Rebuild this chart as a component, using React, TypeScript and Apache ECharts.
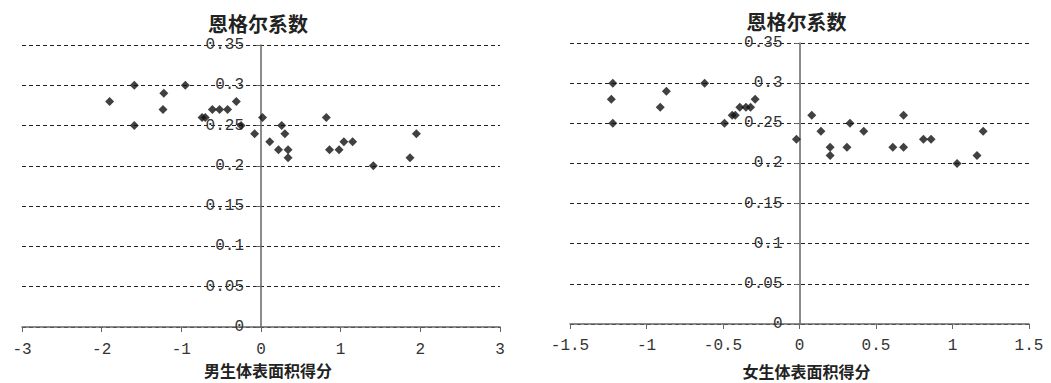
import React, { useEffect, useRef } from "react";
import * as echarts from "echarts";

const yTitle = "恩格尔系数";
const maleXName = "男生体表面积得分";
const femaleXName = "女生体表面积得分";

const maleX = [-1.9, -1.59, -1.59, -1.22, -1.23, -0.95, -0.74, -0.7, -0.61, -0.52, -0.42, -0.31, -0.25, -0.08, 0.02, 0.11, 0.26, 0.3, 0.22, 0.34, 0.34, 0.82, 0.86, 0.98, 1.04, 1.15, 1.41, 1.87, 1.95];
const maleY = [0.28, 0.3, 0.25, 0.29, 0.27, 0.3, 0.26, 0.26, 0.27, 0.27, 0.27, 0.28, 0.25, 0.24, 0.26, 0.23, 0.25, 0.24, 0.22, 0.22, 0.21, 0.26, 0.22, 0.22, 0.23, 0.23, 0.2, 0.21, 0.24];

const femaleX = [-1.22, -1.23, -1.22, -0.87, -0.91, -0.62, -0.49, -0.44, -0.42, -0.39, -0.35, -0.32, -0.29, -0.02, 0.08, 0.14, 0.2, 0.2, 0.31, 0.33, 0.42, 0.61, 0.68, 0.68, 0.81, 0.86, 1.03, 1.16, 1.2];
const femaleY = [0.3, 0.28, 0.25, 0.29, 0.27, 0.3, 0.25, 0.26, 0.26, 0.27, 0.27, 0.27, 0.28, 0.23, 0.26, 0.24, 0.22, 0.21, 0.22, 0.25, 0.24, 0.22, 0.22, 0.26, 0.23, 0.23, 0.2, 0.21, 0.24];

const Y_MIN = 0;
const Y_MAX = 0.35;
const Y_STEP = 0.05;

const labelFont = "'Liberation Mono', monospace";
const cjkFont = "'Liberation Serif', 'Noto Sans CJK SC', serif";

const grids = [
  { left: 22, top: 45, width: 478, height: 282 },
  { left: 570, top: 43, width: 459, height: 281 },
];

function xAxisCfg(gridIndex: number, min: number, max: number, step: number, name: string, nameGap: number, labelMargin: number) {
  return {
    type: "value" as const,
    gridIndex,
    min,
    max,
    interval: step,
    name,
    nameLocation: "middle" as const,
    nameGap,
    nameTextStyle: { fontFamily: cjkFont, fontSize: 16, color: "#222", fontWeight: "bold" as const, padding: [0, 0, 0, 14] },
    axisLine: { onZero: false, lineStyle: { color: "#666", width: 1.5 } },
    axisTick: { show: true, inside: false, length: 5, lineStyle: { color: "#666" } },
    axisLabel: { fontFamily: labelFont, fontSize: 16, color: "#333", margin: labelMargin },
    splitLine: { show: false },
  };
}

function yAxisCfg(gridIndex: number, xMin: number, xMax: number) {
  const g = grids[gridIndex];
  // place the vertical axis at x = 0 of the horizontal axis
  const zeroOffset = -((0 - xMin) / (xMax - xMin)) * g.width;
  return {
    type: "value" as const,
    gridIndex,
    min: Y_MIN,
    max: Y_MAX,
    interval: Y_STEP,
    position: "left" as const,
    offset: zeroOffset,
    name: yTitle,
    nameLocation: "end" as const,
    nameGap: 10,
    nameTextStyle: { fontFamily: cjkFont, fontSize: 20, color: "#222", fontWeight: "bold" as const, padding: [0, 6, 0, 0] },
    axisLine: { show: true, onZero: false, lineStyle: { color: "#666", width: 1.5 } },
    axisTick: { show: true, inside: false, length: 5, lineStyle: { color: "#666" } },
    axisLabel: { fontFamily: labelFont, fontSize: 16, color: "#333", margin: 17 },
    splitLine: { show: true, lineStyle: { color: "#222", type: [4, 3] as number[], width: 1 } },
  };
}

export default function App() {
  const ref = useRef<HTMLDivElement>(null);
  useEffect(() => {
    document.body.style.margin = "0";
    if (!ref.current) return;
    const chart = echarts.init(ref.current, undefined, { renderer: "svg" });
    const male = maleX.map((x, i) => [x, maleY[i]]);
    const female = femaleX.map((x, i) => [x, femaleY[i]]);
    chart.setOption({
      animation: false,
      backgroundColor: "#fff",
      grid: grids.map((g) => ({ ...g, containLabel: false, outerBoundsMode: "none" })),
      xAxis: [
        xAxisCfg(0, -3, 3, 1, maleXName, 36, 15),
        xAxisCfg(1, -1.5, 1.5, 0.5, femaleXName, 40, 14),
      ],
      yAxis: [yAxisCfg(0, -3, 3), yAxisCfg(1, -1.5, 1.5)],
      series: [
        {
          type: "scatter",
          xAxisIndex: 0,
          yAxisIndex: 0,
          data: male,
          symbol: "diamond",
          symbolSize: 9,
          itemStyle: { color: "#111" },
        },
        {
          type: "scatter",
          xAxisIndex: 1,
          yAxisIndex: 1,
          data: female,
          symbol: "diamond",
          symbolSize: 9,
          itemStyle: { color: "#111" },
        },
      ],
    });
    return () => chart.dispose();
  }, []);
  return <div ref={ref} style={{ width: 1051, height: 383 }} />;
}
